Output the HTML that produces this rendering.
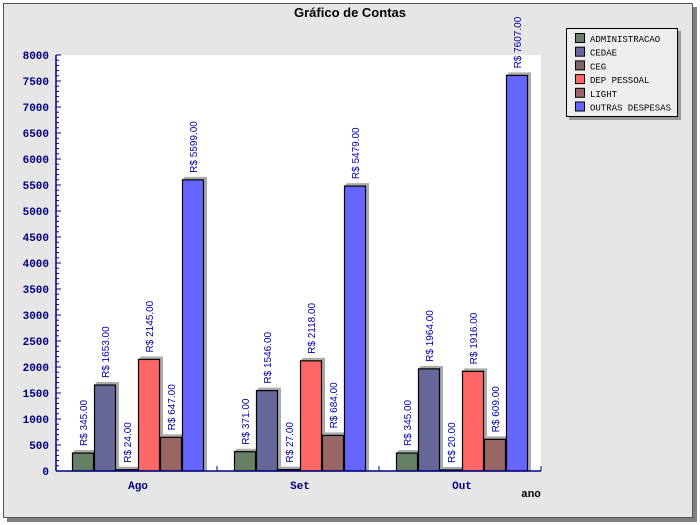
<!DOCTYPE html>
<html><head><meta charset="utf-8"><style>
html,body{margin:0;padding:0;background:#fff;}
svg{display:block;font-family:"Liberation Sans",sans-serif;}
</style></head><body>
<svg width="700" height="525" viewBox="0 0 700 525">
<rect x="7" y="7" width="690" height="515" fill="#808080"/>
<rect x="3.5" y="3.5" width="689" height="514" fill="#e6e6e6" stroke="#555" stroke-width="1"/>
<text x="350" y="17" text-anchor="middle" font-size="13" font-weight="bold" fill="#000">Gráfico de Contas</text>
<rect x="56" y="55" width="485" height="416" fill="#fff"/>
<g id="yaxis"></g>
<g id="bars"></g>
<g id="xaxis"></g>
<text x="531" y="497" text-anchor="middle" font-size="11" font-weight="bold" fill="#000" font-family="Liberation Mono,monospace">ano</text>
<g>
<rect x="569" y="31" width="112" height="89" fill="#999"/>
<rect x="566.5" y="28.5" width="111" height="88" fill="#eee" stroke="#000"/>
<g id="legend"></g>
</g>
</svg>
<script>
const categories=["Ago","Set","Out"];
const seriesNames=["ADMINISTRACAO","CEDAE","CEG","DEP PESSOAL","LIGHT","OUTRAS DESPESAS"];
const admin=[345,371,345];
const cedae=[1653,1546,1964];
const ceg=[24,27,20];
const dep=[2145,2118,1916];
const light=[647,684,609];
const outras=[5599,5479,7607];
const yTicks=[0,500,1000,1500,2000,2500,3000,3500,4000,4500,5000,5500,6000,6500,7000,7500,8000];
const colors=["#668066","#666699","#806666","#ff6666","#996666","#6666ff"];
const series=[admin,cedae,ceg,dep,light,outras];
const NS="http://www.w3.org/2000/svg";
function mk(t,a,p){const e=document.createElementNS(NS,t);for(const k in a)e.setAttribute(k,a[k]);p.appendChild(e);return e;}
const y0=471,yTop=55,yMax=8000;
function Y(v){return y0-(v/yMax)*(y0-yTop);}
const gStart=72,gStep=162,bw=22;
function X(ci,si){return gStart+ci*gStep+si*bw;}
const ya=document.getElementById('yaxis');
mk('line',{x1:56,y1:55,x2:56,y2:471,stroke:'#000080','stroke-width':1.5},ya);
for(let v=0;v<=yMax;v+=100){mk('line',{x1:56,x2:v%500==0?61:59,y1:Y(v),y2:Y(v),stroke:'#000080'},ya);}
yTicks.forEach(v=>{const t=mk('text',{x:49,y:Y(v)+4,'text-anchor':'end','font-size':11,'font-weight':'bold',fill:'#000080','font-family':'Liberation Mono,monospace'},ya);t.textContent=v;

});
const bg=document.getElementById('bars');
series.forEach((s,si)=>{s.forEach((v,ci)=>{
 const x=X(ci,si),y=Y(v),h=y0-y;
 mk('polygon',{points:`${x+3},${y-3} ${x+bw+3},${y-3} ${x+bw+3},${y0} ${x+bw},${y0} ${x+bw},${y} ${x},${y}`,fill:'#aaa'},bg);
 const r=mk('rect',{x:x+0.5,y:y,width:bw-1,height:Math.max(h,1),fill:colors[si],stroke:'#000','stroke-width':1.2},bg);
 
 
 const tx=x+bw/2+4,ty=y-7;
 const t=mk('text',{x:tx,y:ty,transform:`rotate(-90 ${tx} ${ty})`,'font-size':10,fill:'#0000aa'},bg);
 t.textContent='R$ '+v.toFixed(2);
 
 
});});
const xa=document.getElementById('xaxis');
mk('line',{x1:56,y1:471,x2:541,y2:471,stroke:'#000080','stroke-width':1.5},xa);
mk('line',{x1:541,y1:466,x2:541,y2:471,stroke:'#000080'},xa);
for(let i=1;i<categories.length;i++){const xx=gStart+i*gStep-17;mk('line',{x1:xx,y1:466,x2:xx,y2:471,stroke:'#000080'},xa);}
categories.forEach((c,ci)=>{const t=mk('text',{x:gStart+ci*gStep+66,y:489,'text-anchor':'middle','font-size':11,'font-weight':'bold',fill:'#000080','font-family':'Liberation Mono,monospace'},xa);t.textContent=c;

});
const lg=document.getElementById('legend');
seriesNames.forEach((n,i)=>{const yy=33+i*13.7;
 const r=mk('rect',{x:575.5,y:yy+0.5,width:9,height:9,fill:colors[i],stroke:'#000'},lg);
 
 
 const t=mk('text',{x:590,y:yy+9,'font-size':9,fill:'#000','font-family':'Liberation Mono,monospace'},lg);t.textContent=n;
 
 
});
</script>
</body></html>
